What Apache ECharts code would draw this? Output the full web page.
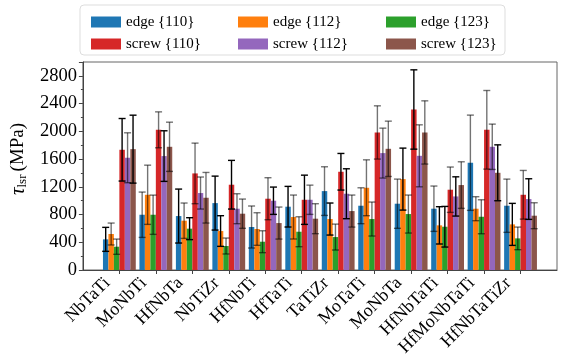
<!DOCTYPE html>
<html>
<head>
<meta charset="utf-8">
<script src="https://cdn.jsdelivr.net/npm/echarts@6/dist/echarts.min.js"></script>
<style>
	html, body { margin: 0; padding: 0; background: #fff; }
	#chart { width: 561px; height: 363px; }
</style>
</head>
<body>
<div id="chart"></div>
<script>
const categories = ["NbTaTi", "MoNbTi", "HfNbTa", "NbTiZr", "HfNbTi", "HfTaTi", "TaTiZr", "MoTaTi", "MoNbTa", "HfNbTaTi", "HfMoNbTaTi", "HfNbTaTiZr"];
const seriesNames = ["edge {110}", "edge {112}", "edge {123}", "screw {110}", "screw {112}", "screw {123}"];

const edge110 = [442, 797, 778, 965, 620, 913, 1138, 927, 956, 884, 1547, 927];
const edge110Err = [173, 327, 389, 389, 303, 293, 351, 259, 355, 327, 687, 384];
const edge112 = [519, 1085, 711, 562, 591, 764, 735, 1186, 1311, 644, 884, 658];
const edge112Err = [158, 427, 255, 221, 235, 317, 231, 403, 447, 269, 173, 303];
const edge123 = [336, 797, 596, 346, 408, 552, 475, 735, 807, 624, 768, 456];
const edge123Err = [110, 283, 158, 115, 158, 216, 187, 245, 274, 293, 245, 163];
const screw110 = [1734, 2022, 1393, 1230, 1028, 1013, 1417, 1984, 2315, 1158, 2022, 1085];
const screw110Err = [451, 259, 437, 351, 303, 355, 264, 384, 572, 327, 567, 351];
const screw112 = [1619, 1643, 1110, 884, 999, 1013, 1100, 1686, 1647, 1061, 1777, 1023];
const screw112Err = [360, 365, 231, 216, 197, 211, 360, 360, 447, 283, 327, 293];
const screw123 = [1743, 1777, 1042, 812, 677, 740, 850, 1748, 1984, 1225, 1402, 783];
const screw123Err = [490, 355, 365, 211, 231, 216, 231, 399, 456, 336, 403, 187];

// 1 = black error bar, 0 = grey one
const edge110Dark = [1, 0, 1, 1, 0, 1, 0, 0, 0, 0, 0, 0];
const edge112Dark = [0, 0, 0, 1, 0, 0, 1, 0, 1, 1, 0, 1];
const edge123Dark = [0, 0, 1, 0, 0, 0, 0, 0, 0, 1, 0, 0];
const screw110Dark = [1, 0, 0, 1, 0, 1, 1, 0, 1, 0, 0, 0];
const screw112Dark = [0, 1, 0, 0, 1, 0, 1, 0, 0, 1, 0, 1];
const screw123Dark = [1, 0, 0, 0, 0, 0, 0, 0, 0, 0, 1, 0];

const yTicks = [0, 400, 800, 1200, 1600, 2000, 2400, 2800];

const colors = ["#1f77b4", "#ff7f0e", "#2ca02c", "#d62728", "#9467bd", "#8c564b"];
const values = [edge110, edge112, edge123, screw110, screw112, screw123];
const errors = [edge110Err, edge112Err, edge123Err, screw110Err, screw112Err, screw123Err];
const darks = [edge110Dark, edge112Dark, edge123Dark, screw110Dark, screw112Dark, screw123Dark];

// blank slot at both ends to leave matplotlib-like margins
const axisCats = [""].concat(categories, [""]);

const barSeries = values.map((vals, i) => ({
	name: seriesNames[i],
	type: "bar",
	data: [null].concat(vals, [null]),
	barWidth: "15%",
	barGap: "0%",
	itemStyle: { color: colors[i] },
	z: 2,
}));

const errData = [];
values.forEach((vals, si) => {
	vals.forEach((v, ci) => {
		errData.push([ci + 1, si, v, errors[si][ci], darks[si][ci]]);
	});
});

const errSeries = {
	type: "custom",
	data: errData,
	encode: { x: 0, y: 2 },
	z: 5,
	silent: true,
	renderItem: function (params, api) {
		const ci = api.value(0);
		const si = api.value(1);
		const v = api.value(2);
		const e = api.value(3);
		const dark = api.value(4);
		const band = api.coord([2, 0])[0] - api.coord([1, 0])[0];
		const bw = band * 0.15;
		const x = api.coord([ci, 0])[0] + (si - 2.5) * bw;
		const yTop = api.coord([ci, v + e])[1];
		const yBot = api.coord([ci, v - e])[1];
		const cap = 3.5;
		const style = {
			stroke: dark ? "#000" : "rgba(0,0,0,0.55)",
			lineWidth: 1.4,
		};
		return {
			type: "group",
			children: [
				{ type: "line", shape: { x1: x, y1: yTop, x2: x, y2: yBot }, style: style },
				{ type: "line", shape: { x1: x - cap, y1: yTop, x2: x + cap, y2: yTop }, style: style },
				{ type: "line", shape: { x1: x - cap, y1: yBot, x2: x + cap, y2: yBot }, style: style },
			],
		};
	},
};

// one legend per column, matplotlib ncol=3 fills column-wise
function legendCol(names, left) {
	return {
		data: names,
		orient: "vertical",
		left: left,
		top: 9,
		itemWidth: 30,
		itemHeight: 11,
		itemGap: 6,
		icon: "rect",
		textStyle: {
			fontFamily: "serif",
			fontSize: 15,
			lineHeight: 16,
			color: "#000",
		},
	};
}

const chart = echarts.init(document.getElementById("chart"), null, { renderer: "canvas" });
chart.setOption({
	animation: false,
	color: colors,
	textStyle: { fontFamily: "serif" },
	grid: {
		left: 66,
		right: 4,
		top: 62,
		bottom: 93,
		show: true,
		borderColor: "#666",
		borderWidth: 1,
	},
	legend: [
		legendCol([seriesNames[0], seriesNames[3]], 86),
		legendCol([seriesNames[1], seriesNames[4]], 233),
		legendCol([seriesNames[2], seriesNames[5]], 381),
	],
	graphic: [
		{
			type: "rect",
			shape: { x: 80, y: 5, width: 425, height: 50, r: 4 },
			style: { fill: "rgba(255,255,255,0.8)", stroke: "#ddd", lineWidth: 1 },
			z: -1,
		},
	],
	xAxis: {
		type: "category",
		data: axisCats,
		boundaryGap: false,
		axisLine: { lineStyle: { color: "#444" } },
		axisTick: {
			alignWithLabel: true,
			interval: (idx, val) => val !== "",
			length: 4,
			lineStyle: { color: "#444" },
		},
		axisLabel: {
			interval: 0,
			rotate: 45,
			align: "right",
			verticalAlign: "bottom",
			margin: 11,
			formatter: (v) => (v ? "{a|" + v + "}" : ""),
			rich: {
				a: { fontFamily: "serif", fontSize: 18, color: "#000", padding: [0, 8, 0, 0] },
			},
		},
	},
	yAxis: {
		type: "value",
		min: 0,
		max: 3000,
		interval: 400,
		name: "{t|τ}{s|lsr} {n|(MPa)}",
		nameLocation: "middle",
		nameGap: 44,
		nameRotate: 90,
		nameTextStyle: {
			padding: [0, 0, 0, 14],
			rich: {
				t: { fontFamily: "serif", fontSize: 21, fontStyle: "italic", color: "#000" },
				s: { fontFamily: "serif", fontSize: 13, color: "#000", padding: [8, 0, 0, 0] },
				n: { fontFamily: "serif", fontSize: 19, color: "#000" },
			},
		},
		axisLine: { show: true, lineStyle: { color: "#444" } },
		axisTick: { show: true, length: 4, lineStyle: { color: "#444" } },
		minorTick: { show: true, splitNumber: 2, length: 2, lineStyle: { color: "#444" } },
		splitLine: { show: false },
		axisLabel: {
			margin: 6,
			showMaxLabel: false,
			formatter: (v) => (yTicks.indexOf(v) >= 0 ? "{a|" + v + "}" : ""),
			rich: {
				a: { fontFamily: "serif", fontSize: 18.5, color: "#000" },
			},
		},
	},
	series: barSeries.concat([errSeries]),
});
</script>
</body>
</html>
